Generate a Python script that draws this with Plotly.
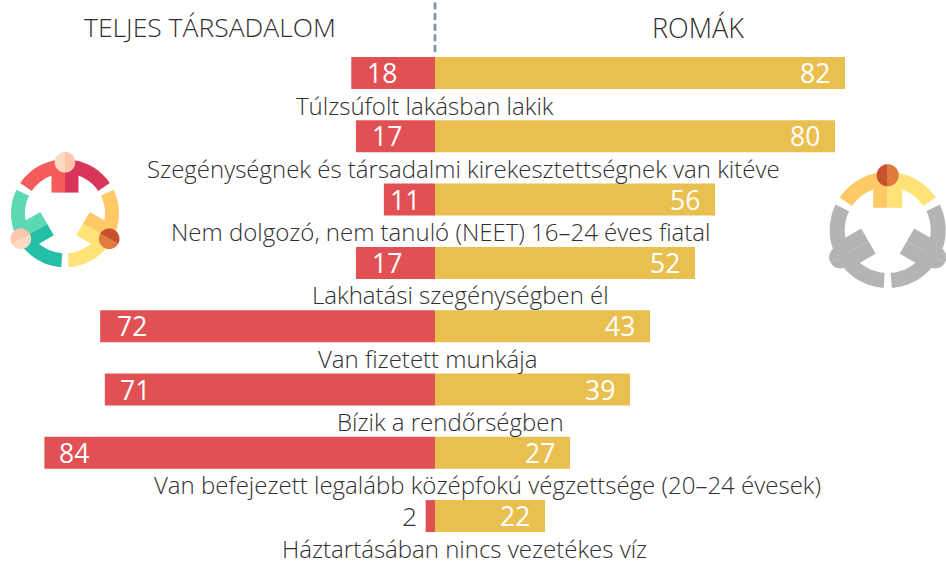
import math
import plotly.graph_objects as go

categories = ["Túlzsúfolt lakásban lakik",
              "Szegénységnek és társadalmi kirekesztettségnek van kitéve",
              "Nem dolgozó, nem tanuló (NEET) 16–24 éves fiatal",
              "Lakhatási szegénységben él",
              "Van fizetett munkája",
              "Bízik a rendőrségben",
              "Van befejezett legalább középfokú végzettsége (20–24 évesek)",
              "Háztartásában nincs vezetékes víz"]
society = [18, 17, 11, 17, 72, 71, 84, 2]
roma = [82, 80, 56, 52, 43, 39, 27, 22]
headers = ["TELJES TÁRSADALOM", "ROMÁK"]

W, H = 946, 562
FONT = "Open Sans"
TXT = "#303030"
RED, GOLD = "#E15053", "#E9C04F"

label_px = [425, 463, 440, 460, 427, 450, 488, 464]
red_off = [31, 31, 21, 31, 32, 30, 30, -16]

fig = go.Figure()
pos = list(range(len(categories)))
fig.add_bar(y=pos, x=society, orientation="h", marker=dict(color=RED, line_width=0),
            width=0.505, xaxis="x", yaxis="y", showlegend=False)
fig.add_bar(y=pos, x=roma, orientation="h", marker=dict(color=GOLD, line_width=0),
            width=0.505, xaxis="x2", yaxis="y", showlegend=False)

ann = []
fs = 26.5
for i, c in enumerate(categories):
    ann.append(dict(text=c, x=label_px[i] / W, xref="paper", xanchor="center",
                    y=i, yref="y", yanchor="middle", yshift=-32,
                    showarrow=False, font=dict(family=FONT, size=24, color=TXT, weight=300)))
    ann.append(dict(text=str(society[i]), x=society[i], xref="x", xanchor="center",
                    y=i, yref="y", yanchor="middle", xshift=red_off[i], showarrow=False,
                    font=dict(family=FONT, size=fs, color="#FFFFFF" if society[i] > 5 else TXT,
                              weight=400 if society[i] > 5 else 300)))
    ann.append(dict(text=str(roma[i]), x=roma[i], xref="x2", xanchor="center",
                    y=i, yref="y", yanchor="middle", xshift=-30,
                    showarrow=False, font=dict(family=FONT, size=fs, color="#FFFFFF")))
for t, px, sz in zip(headers, [210, 698], [26.5, 27]):
    ann.append(dict(text=t, x=px / W, xref="paper", xanchor="center",
                    y=1 - 27 / H, yref="paper", yanchor="middle", showarrow=False,
                    font=dict(family=FONT, size=sz, color=TXT, weight=300)))


def poly(pts, color):
    d = "M" + "L".join(f"{x / W:.5f},{1 - y / H:.5f}" for x, y in pts) + "Z"
    return dict(type="path", path=d, xref="paper", yref="paper",
                fillcolor=color, line_width=0, layer="above")


def rot(cx, cy, deg, x, y):
    a = math.radians(deg)
    return cx + x * math.cos(a) + y * math.sin(a), cy - (-x * math.sin(a) + y * math.cos(a))


def person(cx, cy, s, deg, ca, cb, ha, hb):
    """A figure in the upward pose, turned clockwise by deg about the ring centre."""
    out = []
    R, r = 54 * s, 40 * s
    for a0, a1, col, xa, xb in [(146, 90, ca, -13.5 * s, 0), (90, 34, cb, 0, 13.5 * s)]:
        n = 24
        angs = [math.radians(a0 + (a1 - a0) * k / n) for k in range(n + 1)]
        pts = [(R * math.cos(t), R * math.sin(t)) for t in angs]
        pts += [(r * math.cos(t), r * math.sin(t)) for t in reversed(angs)]
        out.append(poly([rot(cx, cy, deg, *p) for p in pts], col))
        body = [(xa, 20.7 * s), (xb, 20.7 * s), (xb, 51 * s), (xa, 51 * s)]
        out.append(poly([rot(cx, cy, deg, *p) for p in body], col))
    hr, hy = 10.3 * s, 51 * s
    for a0, col in [(90, ha), (-90, hb)]:
        pts = [(hr * math.cos(math.radians(a0 + 180 * k / 24)),
                hy + hr * math.sin(math.radians(a0 + 180 * k / 24))) for k in range(25)]
        out.append(poly([rot(cx, cy, deg, *p) for p in pts], col))
    return out


shapes = [dict(type="line", xref="x", x0=0, x1=0, yref="paper", y0=1 - 2.5 / H, y1=1 - 53 / H,
               line=dict(color="#7F97A0", width=2.8, dash="7px,3.6px"))]
lx, ly = 65, 213.3
shapes += person(lx, ly, 1, 0, "#F45B5B", "#D9355A", "#FFD9C4", "#FFC6AE")
shapes += person(lx, ly, 1, 120, "#FFC966", "#FFE377", "#C7512A", "#E27A3F")
shapes += person(lx, ly, 1, 240, "#23C0A5", "#5CD9B2", "#FFD9C4", "#FFC6AE")
rx, ry, rs = 887.7, 230, 58 / 54
GR = "#B3B5B5"
shapes += person(rx, ry, rs, 0, "#FFC966", "#FFE377", "#C7512A", "#E27A3F")
shapes += person(rx, ry, rs, 120, GR, GR, GR, GR)
shapes += person(rx, ry, rs, 240, GR, GR, GR, GR)

hidden = dict(visible=False, showgrid=False, zeroline=False, fixedrange=True)
fig.update_layout(
    width=W, height=H, autosize=False, margin=dict(l=0, r=0, t=0, b=0),
    paper_bgcolor="white", plot_bgcolor="white", barmode="overlay",
    font=dict(family=FONT, color=TXT), annotations=ann, shapes=shapes,
    xaxis=dict(range=[435 / 4.65, -511 / 4.65], domain=[0, 1], **hidden),
    xaxis2=dict(range=[-435 / 5, 511 / 5], domain=[0, 1], overlaying="x", **hidden),
    yaxis=dict(range=[(562 - 73) / 63.3, -73 / 63.3], domain=[0, 1], **hidden),
)
fig.write_html("out.html", config=dict(displayModeBar=False),
               post_script="document.body.style.margin='0';")
